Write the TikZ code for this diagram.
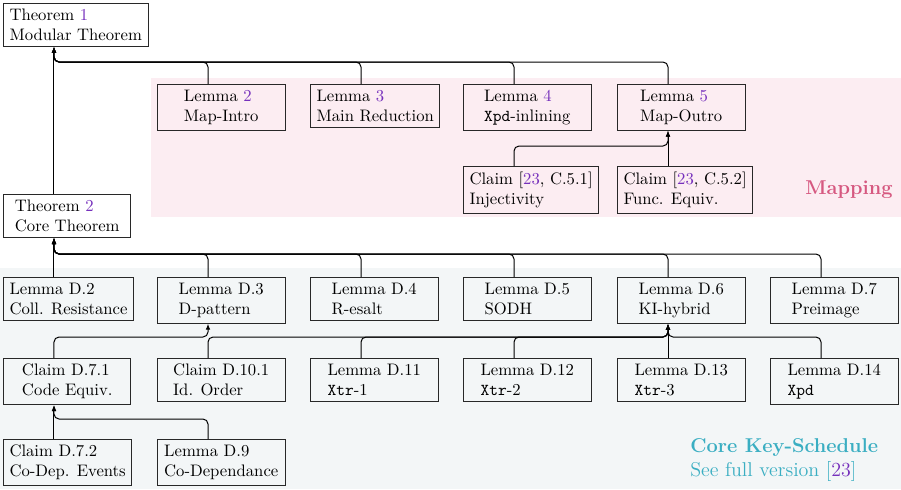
\documentclass[tikz,border=0pt]{standalone}
\usetikzlibrary{arrows.meta}
\definecolor{refcol}{RGB}{118,48,188}
\definecolor{pinkbg}{RGB}{252,237,242}
\definecolor{graybg}{RGB}{243,246,247}
\definecolor{mapcol}{RGB}{214,88,128}
\definecolor{corecol}{RGB}{58,174,194}
\definecolor{boxcol}{RGB}{40,40,40}
\newcommand{\rf}[1]{\textcolor{refcol}{#1}}
\newcommand{\uplink}[3]{\draw[link] ([xshift=30.6pt]#1.north west) -- ++(0,#3) -| ([xshift=30.6pt]#2.south west);}
\newcommand{\straightlink}[2]{\draw[link] ([xshift=30.6pt]#1.north west) -- ([xshift=30.6pt]#2.south west);}
\tikzset{
  resbox/.style={draw=boxcol, line width=0.6pt, anchor=north west, align=left,
    minimum width=76.5pt, inner xsep=3.6pt, inner ysep=3.33pt, text=black},
  link/.style={line width=0.6pt, black, rounded corners=3pt, -{Latex[length=3.6pt,width=2.8pt]}},
}
\begin{document}
\begin{tikzpicture}[x=0.6pt,y=-0.6pt]
\useasboundingbox (0,0) rectangle (901,489);
\fill[pinkbg] (151,78) rectangle (901,217);
\fill[graybg] (0,268) rectangle (901,489);

\node[resbox] (thm1) at (3,3) {Theorem \rf{1}\\Modular Theorem};
\node[resbox] (lem2) at (157,84) {Lemma \rf{2}\\Map-Intro};
\node[resbox] (lem3) at (310,84) {Lemma \rf{3}\\Main Reduction};
\node[resbox] (lem4) at (463,84) {Lemma \rf{4}\\\texttt{Xpd}-inlining};
\node[resbox] (lem5) at (617,84) {Lemma \rf{5}\\Map-Outro};
\node[resbox] (cl51) at (463,166) {Claim [\rf{23}, C.5.1]\\Injectivity};
\node[resbox] (cl52) at (617,166) {Claim [\rf{23}, C.5.2]\\Func. Equiv.};

\node[resbox] (thm2) at (3,194) {Theorem \rf{2}\\Core Theorem};
\node[resbox] (d2) at (3,277) {Lemma D.2\\Coll. Resistance};
\node[resbox] (d3) at (157,277) {Lemma D.3\\D-pattern};
\node[resbox] (d4) at (310,277) {Lemma D.4\\R-esalt};
\node[resbox] (d5) at (463,277) {Lemma D.5\\SODH};
\node[resbox] (d6) at (617,277) {Lemma D.6\\KI-hybrid};
\node[resbox] (d7) at (770,277) {Lemma D.7\\Preimage};

\node[resbox] (c71) at (3,358) {Claim D.7.1\\Code Equiv.};
\node[resbox] (c101) at (157,358) {Claim D.10.1\\Id. Order};
\node[resbox] (d11) at (310,358) {Lemma D.11\\\texttt{Xtr}-1};
\node[resbox] (d12) at (463,358) {Lemma D.12\\\texttt{Xtr}-2};
\node[resbox] (d13) at (617,358) {Lemma D.13\\\texttt{Xtr}-3};
\node[resbox] (d14) at (770,358) {Lemma D.14\\\texttt{Xpd}};

\node[resbox] (c72) at (3,439) {Claim D.7.2\\Co-Dep. Events};
\node[resbox] (d9) at (157,439) {Lemma D.9\\Co-Dependance};

\node[anchor=base east, text=mapcol, font=\large\bfseries, inner sep=0pt] (maplbl) at (893,194) {Mapping};
\node[anchor=base west, text=corecol, font=\large\bfseries, inner sep=0pt] (corelbl) at (690,452) {Core Key-Schedule};
\node[anchor=base west, text=corecol, font=\large, inner sep=0pt] (seelbl) at (690,476) {See full version [\rf{23}]};

% Mapping
\straightlink{thm2}{thm1}
\uplink{lem2}{thm1}{-22}
\uplink{lem3}{thm1}{-22}
\uplink{lem4}{thm1}{-22}
\uplink{lem5}{thm1}{-22}
\uplink{cl51}{lem5}{-20}
\straightlink{cl52}{lem5}

% Core
\straightlink{d2}{thm2}
\uplink{d3}{thm2}{-23}
\uplink{d4}{thm2}{-23}
\uplink{d5}{thm2}{-23}
\uplink{d6}{thm2}{-23}
\uplink{d7}{thm2}{-23}

\uplink{c71}{d3}{-21}
\uplink{c101}{d6}{-21}
\uplink{d11}{d6}{-21}
\uplink{d12}{d6}{-21}
\straightlink{d13}{d6}
\uplink{d14}{d6}{-21}

\straightlink{c72}{c71}
\uplink{d9}{c71}{-20}
\end{tikzpicture}
\end{document}
